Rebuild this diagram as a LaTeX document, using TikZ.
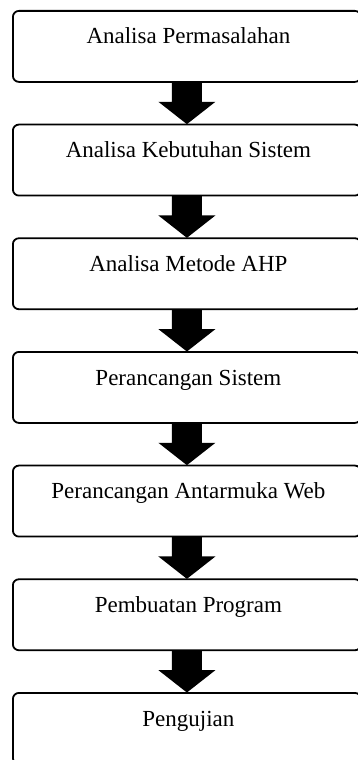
\documentclass[tikz,border=0pt]{standalone}
\usepackage{fontspec}
\setmainfont{Liberation Serif}
\usetikzlibrary{calc}
\begin{document}
\begin{tikzpicture}[x=1pt,y=-1pt,
  stagebox/.style={draw=black,line width=1.8pt,rounded corners=6pt,minimum width=348pt,minimum height=71pt,inner sep=0pt,anchor=north west,fill=white},
  stagetext/.style={font=\fontsize{23}{25}\selectfont,anchor=base,inner sep=0pt},
  bigarrow/.style={fill=black}]
\useasboundingbox (0,0) rectangle (358,760);
\foreach \i/\t in {1/Analisa Permasalahan,2/Analisa Kebutuhan Sistem,3/Analisa Metode AHP,4/Perancangan Sistem,5/Perancangan Antarmuka Web,6/Pembuatan Program,7/Pengujian}{
  \node[stagebox] (b\i) at (12,{10+113.67*(\i-1)}) {};
  \node[stagetext] (t\i) at ($(b\i.north)+(1.5,34)$) {\t};
}
\foreach \i [evaluate=\i as \j using int(\i+1)] in {1,...,6}{
  \fill[bigarrow] ($(b\i.south)+(-15,-1)$) -- ($(b\i.south)+(15,-1)$) -- ($(b\i.south)+(15,19)$) -- ($(b\i.south)+(28.5,19)$) -- ($(b\j.north)+(0,0.5)$) -- ($(b\i.south)+(-28.5,19)$) -- ($(b\i.south)+(-15,19)$) -- cycle;
}
\end{tikzpicture}
\end{document}
